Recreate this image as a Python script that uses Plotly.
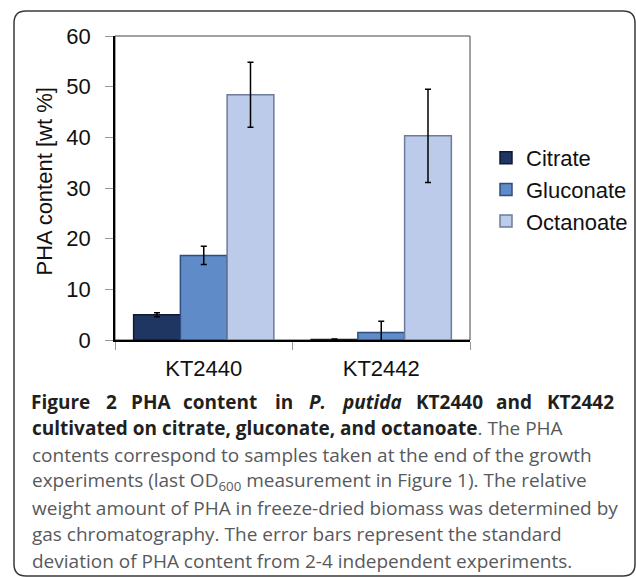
import plotly.graph_objects as go

strains = ["KT2440", "KT2442"]
series_names = ["Citrate", "Gluconate", "Octanoate"]
citrate = [5.0, 0.1]
citrate_err = [0.4, 0.1]
gluconate = [16.7, 1.5]
gluconate_err = [1.8, 2.2]
octanoate = [48.4, 40.3]
octanoate_err = [6.4, 9.2]
y_ticks = [0, 10, 20, 30, 40, 50, 60]

W, H = 636, 577
L, R, T, B = 115, 470, 36, 340  # plot area in pixels


def px(x):
    return (x - L) / (R - L)


def py(y):
    return (B - y) / (B - T)


fills = ["#1f3562", "#5f8bc8", "#bccbea"]
edges = ["#0e1a33", "#2f4d7e", "#6c7c9c"]
values = [citrate, gluconate, octanoate]
errs = [citrate_err, gluconate_err, octanoate_err]

fig = go.Figure()
for name, v, e, fc, ec in zip(series_names, values, errs, fills, edges):
    fig.add_trace(go.Bar(
        x=strains, y=v, name=name,
        marker=dict(color=fc, line=dict(color=ec, width=1.5)),
        error_y=dict(type="data", array=e, visible=True, color="black",
                     thickness=1.5, width=3),
    ))

fig.update_layout(
    width=W, height=H,
    margin=dict(l=L, r=W - R, t=T, b=H - B, pad=0, autoexpand=False),
    paper_bgcolor="white", plot_bgcolor="white",
    barmode="group", bargap=0.21, bargroupgap=0,
    font=dict(family="Liberation Sans, Arial, sans-serif", size=22, color="#111"),
    showlegend=True,
    legend=dict(x=px(486), y=py(137), xanchor="left", yanchor="top",
                font=dict(size=22, color="#111"), tracegroupgap=0,
                bgcolor="rgba(0,0,0,0)", itemwidth=30),
    xaxis=dict(type="category", showline=True, linecolor="black", linewidth=2,
               ticks="outside", tickson="boundaries", ticklen=8, tickcolor="#999",
               showgrid=False, zeroline=False, ticklabelstandoff=8),
    yaxis=dict(range=[0, 60], tickvals=y_ticks, showline=True, linecolor="black",
               linewidth=1.5, ticks="outside", ticklen=8, tickcolor="#999",
               showgrid=False, zeroline=False, ticklabelstandoff=10),
)

# plot frame (top/right)
fig.add_shape(type="rect", xref="paper", yref="paper", x0=0, y0=0, x1=1, y1=1,
              line=dict(color="#444", width=1), layer="below")

# outer rounded frame
x0, x1, y0, y1, r = 14, 635, 11, 576, 12
path = (f"M {px(x0)},{py(y0 + r)} Q {px(x0)},{py(y0)} {px(x0 + r)},{py(y0)} "
        f"L {px(x1 - r)},{py(y0)} Q {px(x1)},{py(y0)} {px(x1)},{py(y0 + r)} "
        f"L {px(x1)},{py(y1 - r)} Q {px(x1)},{py(y1)} {px(x1 - r)},{py(y1)} "
        f"L {px(x0 + r)},{py(y1)} Q {px(x0)},{py(y1)} {px(x0)},{py(y1 - r)} Z")
fig.add_shape(type="path", xref="paper", yref="paper", path=path,
              line=dict(color="#3a3a3a", width=1.5))

# y axis title
fig.add_annotation(text="PHA content [wt %]", xref="paper", yref="paper",
                   x=px(29), y=py(182), textangle=-90, showarrow=False,
                   font=dict(size=22, color="#111"))

# caption
cap_font = "Open Sans, Noto Sans, sans-serif"
fs = 19
dark = "#231f20"
grey = "#58595b"
line1 = [("Figure", 60), ("2", 111), ("PHA", 151), ("content", 220),
         ("in", 284), ("<i>P.</i>", 317), ("<i>putida</i>", 372),
         ("KT2440", 449), ("and", 514), ("KT2442", 580)]
for word, cx in line1:
    fig.add_annotation(text=f"<b>{word}</b>", xref="paper", yref="paper",
                       x=px(cx), y=py(402), xanchor="center", yanchor="middle",
                       showarrow=False, font=dict(family=cap_font, size=fs, color=dark))

lines = [
    (428, f"<b>cultivated on citrate, gluconate, and octanoate</b><span style='color:{grey}'>. The PHA</span>"),
    (455, "contents correspond to samples taken at the end of the growth"),
    (481, "experiments (last OD<sub>600</sub> measurement in Figure 1). The relative"),
    (508, "weight amount of PHA in freeze-dried biomass was determined by"),
    (534, "gas chromatography. The error bars represent the standard"),
    (561, "deviation of PHA content from 2-4 independent experiments."),
]
for i, (yy, txt) in enumerate(lines):
    fig.add_annotation(text=txt, xref="paper", yref="paper",
                       x=px(30), y=py(yy), xanchor="left", yanchor="middle",
                       showarrow=False, align="left",
                       font=dict(family=cap_font, size=fs, color=dark if i == 0 else grey))

fig.write_html("out.html")
